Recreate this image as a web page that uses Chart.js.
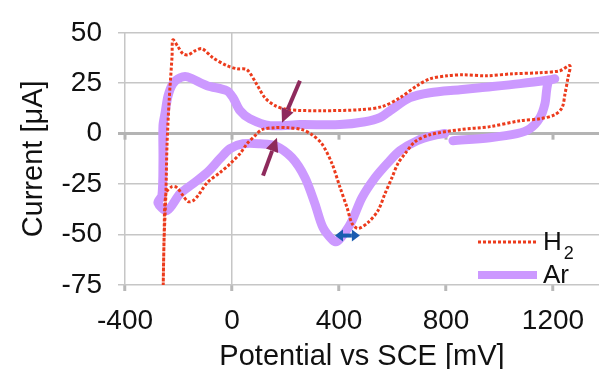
<!DOCTYPE html>
<html>
<head>
<meta charset="utf-8">
<script src="https://cdn.jsdelivr.net/npm/chart.js@4/dist/chart.umd.min.js"></script>
<style>
  html, body { margin: 0; padding: 0; background: #fff; }
</style>
</head>
<body>
<canvas id="cv" width="599" height="369"></canvas>
<script>
// cyclic voltammograms: potential in mV, current in µA
const h2Potential = [
  -258, -254, -247, -243, -235, -224, -221, -202, -183, -164, -138, -112, -71, -19, 19, 56,
  93, 123, 161, 209, 336, 478, 561, 628, 692, 740, 804, 863, 953, 1050, 1151, 1226, 1263,
  1256, 1245, 1234, 1207, 1151, 1077, 964, 852, 740, 684, 647, 620, 598, 572, 546, 508,
  471, 449, 430, 404, 374, 336, 299, 262, 209, 161, 112, 86, 56, 30, -7, -45, -93, -127,
  -146, -164, -183, -206, -224, -247, -254, -258,
];
const h2Current = [
  -82.7, -53, -29.2, -5.9, 16.3, 38.6, 46.5, 43.1, 39.6, 39.1, 41.1, 42.1, 37.6, 33.7, 32.2, 31.7,
  24.3, 17.8, 13.9, 11.9, 11.4, 11.9, 13.4, 17.8, 23.8, 27.2, 28.7, 29.2, 28.7, 29.7, 30.2, 31.2, 33.7,
  27.7, 19.8, 12.9, 9.4, 7.4, 6.4, 3.5, 2.0, -0.5, -4.0, -9.9, -14.9, -21.8, -29.7, -38.1, -44.1,
  -47.0, -44.6, -36.6, -26.7, -14.9, -5.0, -0.5, 2.0, 3.0, 3.0, 2.0, -1.0, -5.0, -9.9, -14.9, -19.3, -24.3, -30.7,
  -33.2, -33.7, -30.7, -26.7, -26.2, -29.7, -53, -82.7,
];
const arPotential = [
  826, 964, 1065, 1114, 1151, 1170, 1177, 1185, 1207, 1189, 1077, 927, 852, 740, 665, 591,
  553, 497, 404, 254, 142, 67, 30, 4, -19, -93, -168, -194, -221, -239, -250, -258, -258,
  -262, -277, -243, -194, -146, -93, -45, -7, 41, 105, 161, 224, 273, 310, 340, 378, 392,
  422, 449, 486, 535, 583, 628, 692, 751, 796,
];
const arCurrent = [
  -3.5, -2.0, 0, 2.5, 7.9, 14.9, 22.3, 26.2, 27.2, 26.7, 24.8, 22.8, 21.8, 20.3, 17.8, 11.4,
  7.9, 5.9, 4.5, 4.5, 4.0, 7.4, 11.4, 17.8, 21.3, 23.8, 28.2, 27.7, 24.8, 18.8, 10.4, 4.0, -13.4,
  -30.7, -34.2, -38.1, -29.7, -24.8, -19.3, -12.4, -7.4, -5.0, -5.0, -5.9, -11.9, -21.8, -34.7, -46.5, -53.0, -53.5,
  -49.0, -43.1, -31.7, -21.8, -14.4, -8.4, -3.5, -1.0, 0.1,
];
const seriesNames = ["H2", "Ar"];
const xTicks = [-400, 0, 400, 800, 1200];
const yTicks = [-75, -50, -25, 0, 25, 50];

// annotation arrows in data units: [x tail, y tail, x head, y head]
const purpleArrows = [
  [254, 26.2, 187, 5.4],
  [116, -20.8, 168, -2.0],
];
const shiftArrow = [385, -50.5, 478, -50.5];

const FONT = "'Liberation Sans', Arial, sans-serif";

function toPoints(xs, ys) {
  return xs.map((x, i) => ({ x, y: ys[i] }));
}

function arrowHead(ctx, fx, fy, tx, ty, len, half) {
  const a = Math.atan2(ty - fy, tx - fx);
  const bx = tx - len * Math.cos(a);
  const by = ty - len * Math.sin(a);
  ctx.beginPath();
  ctx.moveTo(tx, ty);
  ctx.lineTo(bx + half * Math.sin(a), by - half * Math.cos(a));
  ctx.lineTo(bx - half * Math.sin(a), by + half * Math.cos(a));
  ctx.closePath();
  ctx.fill();
  return [bx, by];
}

const zeroAxisTicks = {
  id: "zeroAxisTicks",
  beforeDatasetsDraw(chart) {
    const { ctx, scales } = chart;
    const y0 = scales.y.getPixelForValue(0);
    ctx.save();
    ctx.fillStyle = "#b4b4b4";
    xTicks.forEach((v) => {
      const px = scales.x.getPixelForValue(v);
      ctx.fillRect(px - 1.5, y0, 3, 6);
    });
    ctx.restore();
  },
};

const annotations = {
  id: "annotations",
  afterDatasetsDraw(chart) {
    const { ctx, scales } = chart;
    const px = (v) => scales.x.getPixelForValue(v);
    const py = (v) => scales.y.getPixelForValue(v);
    ctx.save();
    ctx.fillStyle = "#8e2a5c";
    ctx.strokeStyle = "#8e2a5c";
    ctx.lineWidth = 4;
    purpleArrows.forEach(([x1, y1, x2, y2]) => {
      const [bx, by] = arrowHead(ctx, px(x1), py(y1), px(x2), py(y2), 14, 6.5);
      ctx.beginPath();
      ctx.moveTo(px(x1), py(y1));
      ctx.lineTo(bx, by);
      ctx.stroke();
    });
    const [sx1, sy1, sx2, sy2] = shiftArrow;
    ctx.fillStyle = "#1a5cb0";
    ctx.strokeStyle = "#1a5cb0";
    ctx.lineWidth = 4;
    const [ax, ay] = arrowHead(ctx, px(sx2), py(sy2), px(sx1), py(sy1), 8, 6);
    const [bx, by] = arrowHead(ctx, px(sx1), py(sy1), px(sx2), py(sy2), 8, 6);
    ctx.beginPath();
    ctx.moveTo(ax, ay);
    ctx.lineTo(bx, by);
    ctx.stroke();
    ctx.restore();
  },
};

const insideLegend = {
  id: "insideLegend",
  afterDatasetsDraw(chart) {
    const { ctx, chartArea: area } = chart;
    const sets = chart.data.datasets;
    const x0 = area.right - 121;
    const x1 = area.right - 62;
    const rows = [area.bottom - 43, area.bottom - 10];
    ctx.save();
    sets.forEach((ds, i) => {
      ctx.beginPath();
      ctx.strokeStyle = ds.borderColor;
      ctx.lineWidth = i === 0 ? 3 : 8;
      ctx.setLineDash(ds.borderDash || []);
      ctx.moveTo(x0, rows[i]);
      ctx.lineTo(x1, rows[i]);
      ctx.stroke();
    });
    ctx.setLineDash([]);
    ctx.fillStyle = "#111";
    ctx.textBaseline = "alphabetic";
    ctx.font = `26px ${FONT}`;
    ctx.fillText("H", area.right - 56, area.bottom - 35);
    const hw = ctx.measureText("H").width;
    ctx.font = `18px ${FONT}`;
    ctx.fillText("2", area.right - 56 + hw + 2, area.bottom - 26);
    ctx.font = `26px ${FONT}`;
    ctx.fillText(seriesNames[1], area.right - 56, area.bottom - 2);
    ctx.restore();
  },
};

new Chart(document.getElementById("cv"), {
  type: "scatter",
  data: {
    datasets: [
      {
        label: seriesNames[0],
        data: toPoints(h2Potential, h2Current),
        showLine: true,
        borderColor: "#ec3b1c",
        borderWidth: 3,
        borderDash: [3, 2],
        pointRadius: 0,
        tension: 0.3,
      },
      {
        label: seriesNames[1],
        data: toPoints(arPotential, arCurrent),
        showLine: true,
        borderColor: "#cc99ff",
        borderWidth: 9,
        borderCapStyle: "round",
        borderJoinStyle: "round",
        pointRadius: 0,
        tension: 0.3,
      },
    ],
  },
  options: {
    responsive: false,
    animation: false,
    events: [],
    layout: { padding: { top: 32, left: 0, right: 0, bottom: 0 } },
    plugins: { legend: { display: false }, tooltip: { enabled: false } },
    scales: {
      x: {
        type: "linear",
        min: -400,
        max: 1372,
        afterBuildTicks: (scale) => {
          scale.ticks = xTicks.map((value) => ({ value }));
        },
        afterFit: (scale) => {
          scale.height = 84;
        },
        border: { display: false },
        grid: {
          color: (c) => (c.tick && (c.tick.value === -400 || c.tick.value === 0) ? "#c6c6c6" : "rgba(0,0,0,0)"),
          lineWidth: 1.5,
          drawTicks: true,
          tickLength: 6,
          tickWidth: 3,
          tickColor: "#b8b8b8",
        },
        ticks: {
          color: "#111",
          padding: 13,
          maxRotation: 0,
          callback: (v) => String(v),
          font: { family: FONT, size: 28 },
        },
        title: {
          display: true,
          text: "Potential vs SCE [mV]",
          color: "#111",
          padding: { top: 0, bottom: -1 },
          font: { family: FONT, size: 29, lineHeight: 0.9 },
        },
      },
      y: {
        type: "linear",
        min: -75,
        max: 50,
        afterBuildTicks: (scale) => {
          scale.ticks = yTicks.map((value) => ({ value }));
        },
        afterFit: (scale) => {
          scale.width = 125;
        },
        border: { display: false },
        grid: {
          color: (c) => (c.tick && c.tick.value === 0 ? "#b4b4b4" : "#c6c6c6"),
          lineWidth: (c) => (c.tick && c.tick.value === 0 ? 3 : 1.5),
          tickWidth: (c) => (c.tick && c.tick.value === 0 ? 3 : 1.5),
          drawTicks: true,
          tickLength: 7,
        },
        ticks: {
          color: "#111",
          padding: 16,
          callback: (v) => String(v),
          font: { family: FONT, size: 28 },
        },
        title: {
          display: true,
          text: "Current [μA]",
          color: "#111",
          padding: { top: 17, bottom: 0 },
          font: { family: FONT, size: 29, lineHeight: 1.2 },
        },
      },
    },
  },
  plugins: [zeroAxisTicks, annotations, insideLegend],
});
</script>
</body>
</html>
